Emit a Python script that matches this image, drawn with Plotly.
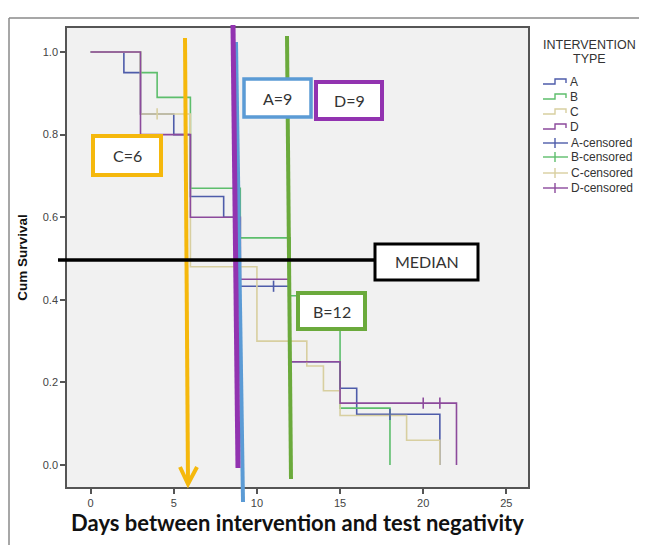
import plotly.graph_objects as go

# ---------------- data ----------------
groups = ["A", "B", "C", "D"]
a_days = [0, 2, 3, 5, 6, 8, 9, 12, 15, 16, 21]
a_surv = [1.0, 0.95, 0.85, 0.80, 0.65, 0.60, 0.433, 0.25, 0.186, 0.123, 0.0]
b_days = [0, 3, 4, 6, 9, 12, 15, 18]
b_surv = [1.0, 0.95, 0.89, 0.67, 0.55, 0.41, 0.138, 0.0]
c_days = [0, 3, 6, 10, 13, 14, 15, 19, 21]
c_surv = [1.0, 0.85, 0.48, 0.30, 0.24, 0.18, 0.12, 0.06, 0.0]
d_days = [0, 3, 6, 9, 12, 15, 22]
d_surv = [1.0, 0.80, 0.60, 0.45, 0.25, 0.15, 0.0]

a_cens_days = [11, 18]
a_cens_surv = [0.433, 0.123]
b_cens_days = []
b_cens_surv = []
c_cens_days = [4]
c_cens_surv = [0.85]
d_cens_days = [20, 21]
d_cens_surv = [0.15, 0.15]

x_ticks = [0, 5, 10, 15, 20, 25]
y_ticks = [0.0, 0.2, 0.4, 0.6, 0.8, 1.0]

medians = {"A": 9, "B": 12, "C": 6, "D": 9}

# ---------------- styling ----------------
OFF = 8                      # page body margin
W, H = 647 - OFF, 545 - OFF  # figure size
L, R, T, B = 67, 528, 28, 487  # plot frame in screen pixels
col = {"A": "#4E5CAA", "B": "#5DBE6C", "C": "#D8CFA0", "D": "#8C4A9C"}
YEL, BLU, GRN, PUR = "#F5B80C", "#5B9BD5", "#6BAA3C", "#9233B0"


def X(p):
    return (p - L) / (R - L)


def Y(p):
    return (B - p) / (B - T)


fig = go.Figure()
series = {"A": (a_days, a_surv), "B": (b_days, b_surv), "C": (c_days, c_surv), "D": (d_days, d_surv)}
cens = {"A": (a_cens_days, a_cens_surv), "B": (b_cens_days, b_cens_surv),
        "C": (c_cens_days, c_cens_surv), "D": (d_cens_days, d_cens_surv)}
for g in groups:
    xs, ys = series[g]
    fig.add_trace(go.Scatter(x=xs, y=ys, mode="lines", line=dict(color=col[g], width=1.6, shape="hv"),
                             name=g, showlegend=False, hoverinfo="skip"))
for g in groups:
    xs, ys = cens[g]
    fig.add_trace(go.Scatter(x=xs, y=ys, mode="markers",
                             marker=dict(symbol="line-ns", size=8, line=dict(color=col[g], width=1.6)),
                             name=g + "-censored", showlegend=False, hoverinfo="skip"))

shapes = []


def line(x0, y0, x1, y1, color, width):
    shapes.append(dict(type="line", xref="paper", yref="paper", x0=X(x0), y0=Y(y0), x1=X(x1), y1=Y(y1),
                       line=dict(color=color, width=width), layer="above"))


def path(pts, color, width):
    d = "M" + " L".join(f"{X(px):.5f},{Y(py):.5f}" for px, py in pts)
    shapes.append(dict(type="path", xref="paper", yref="paper", path=d,
                       line=dict(color=color, width=width), layer="above"))


def rect(x0, y0, x1, y1, color, width):
    shapes.append(dict(type="rect", xref="paper", yref="paper", x0=X(x0), y0=Y(y1), x1=X(x1), y1=Y(y0),
                       line=dict(color=color, width=width), fillcolor="white", layer="above"))


# outer picture frame
line(9, 18, 9, 545, "#8A8A8A", 1.5)
line(9, 18, 647, 18, "#8A8A8A", 1.5)

# hand-drawn median markers
line(185, 38, 188, 482, YEL, 4)
path([(180, 467), (188, 484), (197, 467)], YEL, 4)
line(236, 42, 243, 502, BLU, 4)
line(233, 25, 238, 468, PUR, 5)
line(287, 36, 291, 479, GRN, 4)
line(58, 260, 376, 260, "#000000", 3.5)

annots = []


def text(xc, yc, s, size, family="Lato", color="#333333", anchor="center", bold=False):
    annots.append(dict(xref="paper", yref="paper", x=X(xc), y=Y(yc), text=("<b>%s</b>" % s) if bold else s,
                       showarrow=False, xanchor=anchor, yanchor="middle",
                       font=dict(family=family, size=size, color=color)))


rect(244, 79, 311, 117, BLU, 3.5)
text(277.5, 98, "A=%d" % medians["A"], 16)
rect(316, 82, 382, 119, PUR, 4)
text(349, 100.5, "D=%d" % medians["D"], 16)
rect(93, 136, 161, 175, YEL, 4)
text(127, 155.5, "C=%d" % medians["C"], 16)
rect(298, 293, 365, 329, GRN, 4)
text(331.5, 311, "B=%d" % medians["B"], 16)
rect(375, 244, 478, 280, "#000000", 3)
text(426.5, 262, "MEDIAN", 16)

# custom legend
text(589, 45, "INTERVENTION", 12.5, family="Liberation Sans")
text(589, 59, "TYPE", 12.5, family="Liberation Sans")
leg_y = [82, 97, 112, 127, 143, 157, 173, 188]
for i, g in enumerate(groups):
    y = leg_y[i]
    path([(543, y + 2), (555, y + 2), (555, y - 3), (566, y - 3), (566, y + 1)], col[g], 1.4)
    text(568, y, g, 12, family="Liberation Sans", anchor="left")
for i, g in enumerate(groups):
    y = leg_y[4 + i]
    line(543, y, 568, y, col[g], 1.4)
    line(555, y - 5, 555, y + 5, col[g], 1.4)
    text(569, y, g + "-censored", 12, family="Liberation Sans", anchor="left")

axis_common = dict(showgrid=False, zeroline=False, showline=True, mirror=True, linecolor="#555555",
                   linewidth=1.5, ticks="outside", ticklen=5, tickcolor="#555555", tickwidth=1.5,
                   tickfont=dict(family="Liberation Sans", size=11, color="#444444"))

fig.update_layout(
    width=W, height=H,
    margin=dict(l=L - OFF, r=W - (R - OFF), t=T - OFF, b=H - (B - OFF), autoexpand=False),
    paper_bgcolor="white", plot_bgcolor="#F1F1F1",
    showlegend=False,
    shapes=shapes, annotations=annots,
    xaxis=dict(range=[-1.42, 26.3], tickvals=x_ticks, **axis_common,
               title=dict(text="<b>Days between intervention and test negativity</b>", standoff=4,
                          font=dict(family="Lato", size=22, color="#111111"))),
    yaxis=dict(range=[-0.053, 1.058], tickvals=y_ticks, tickformat=".1f", **axis_common,
               title=dict(text="<b>Cum Survival</b>", standoff=12,
                          font=dict(family="Liberation Sans", size=13.5, color="#111111"))),
)

fig.write_html("out.html")
